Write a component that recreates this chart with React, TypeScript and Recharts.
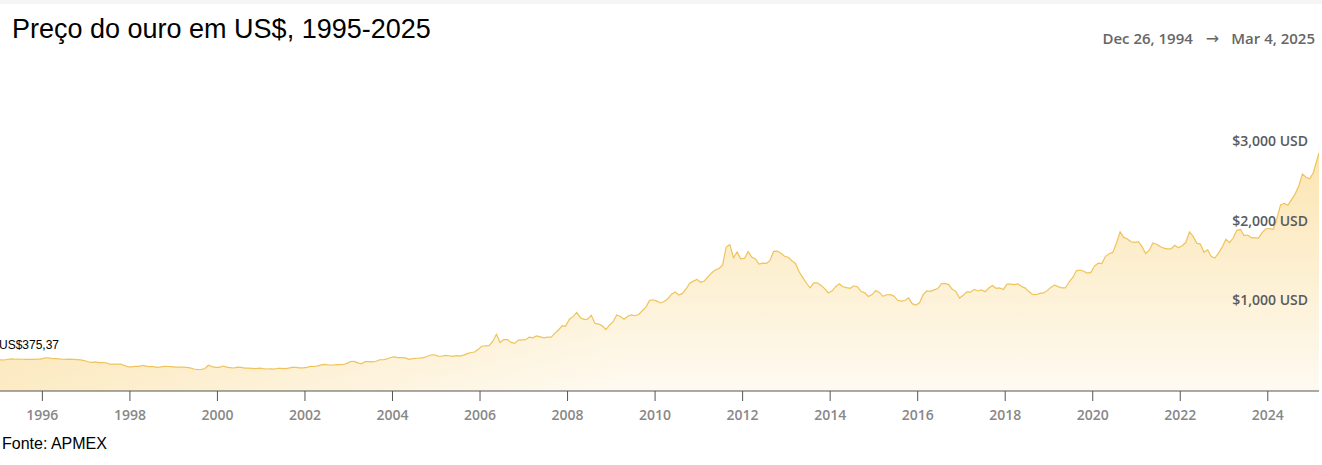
import React from 'react';
import { AreaChart, Area, XAxis, YAxis } from 'recharts';

// monthly gold price estimates (US$/oz), Jan..Dec
const prices1995to1999 = [
  378, 376, 385, 390, 385, 387, 385, 383, 384, 383, 386, 387,
  399, 404, 396, 393, 391, 385, 384, 387, 383, 380, 377, 369,
  354, 346, 352, 343, 344, 341, 323, 324, 323, 324, 306, 289,
  289, 297, 296, 309, 299, 292, 293, 284, 289, 296, 294, 291,
  287, 287, 286, 282, 277, 262, 256, 257, 265, 310, 293, 284,
];
const prices2000to2004 = [
  284, 300, 286, 280, 275, 286, 282, 274, 273, 270, 266, 272,
  266, 262, 263, 260, 272, 270, 268, 273, 283, 283, 276, 276,
  282, 296, 294, 302, 314, 321, 313, 310, 319, 317, 319, 333,
  357, 359, 340, 328, 355, 356, 351, 360, 379, 379, 389, 407,
  414, 405, 406, 403, 383, 392, 398, 400, 405, 420, 439, 442,
];
const prices2005to2009 = [
  424, 423, 434, 429, 422, 430, 424, 437, 456, 470, 476, 510,
  549, 555, 557, 610, 700, 596, 633, 632, 598, 585, 627, 629,
  631, 664, 655, 679, 667, 655, 665, 665, 712, 754, 806, 803,
  889, 922, 975, 909, 888, 889, 939, 839, 829, 806, 760, 816,
  858, 943, 924, 890, 928, 945, 934, 949, 996, 1043, 1127, 1135,
];
const prices2010to2014 = [
  1118, 1095, 1113, 1148, 1205, 1232, 1193, 1215, 1271, 1343, 1370, 1391,
  1356, 1372, 1424, 1473, 1510, 1529, 1572, 1800, 1830, 1665, 1739, 1652,
  1656, 1742, 1674, 1650, 1585, 1596, 1594, 1630, 1744, 1747, 1721, 1684,
  1671, 1627, 1593, 1487, 1414, 1343, 1286, 1347, 1349, 1316, 1275, 1221,
  1244, 1300, 1336, 1299, 1287, 1279, 1311, 1296, 1239, 1222, 1176, 1200,
];
const prices2015to2019 = [
  1251, 1227, 1178, 1198, 1199, 1181, 1128, 1117, 1125, 1159, 1086, 1068,
  1097, 1199, 1246, 1242, 1260, 1276, 1337, 1341, 1326, 1267, 1238, 1157,
  1192, 1234, 1231, 1266, 1246, 1260, 1236, 1283, 1315, 1280, 1284, 1265,
  1331, 1331, 1325, 1335, 1303, 1282, 1238, 1202, 1198, 1215, 1221, 1250,
  1291, 1320, 1300, 1286, 1284, 1359, 1413, 1500, 1510, 1495, 1471, 1480,
];
const prices2020to2025 = [
  1560, 1597, 1592, 1683, 1716, 1732, 1847, 1990, 1921, 1900, 1866, 1858,
  1867, 1808, 1718, 1760, 1850, 1834, 1807, 1785, 1776, 1777, 1821, 1790,
  1817, 1856, 1990, 1937, 1849, 1837, 1733, 1765, 1681, 1660, 1726, 1798,
  1898, 1855, 1913, 2010, 2020, 1943, 1951, 1918, 1916, 1916, 1985, 2030,
  2033, 2023, 2160, 2331, 2350, 2326, 2398, 2470, 2570, 2720, 2680, 2660,
  2740, 2900,
];

const firstT = 1994.986; // Dec 26, 1994
const firstPrice = 375.37;
const lastT = 2025.17; // Mar 4, 2025
const lastPrice = 2985;

const yearTicks = [1996, 1998, 2000, 2002, 2004, 2006, 2008, 2010, 2012, 2014, 2016, 2018, 2020, 2022, 2024];
const priceTicks = [1000, 2000, 3000];

const monthly = [
  ...prices1995to1999,
  ...prices2000to2004,
  ...prices2005to2009,
  ...prices2010to2014,
  ...prices2015to2019,
  ...prices2020to2025,
];

const data = [
  { t: firstT, price: firstPrice },
  ...monthly.map((p, i) => ({ t: 1995 + (i + 0.5) / 12, price: p })),
  { t: lastT, price: lastPrice },
];

const sans = '"Open Sans", "Noto Sans", sans-serif';

const PriceTick = ({ y, payload }: any) => (
  <text
    x={1310}
    y={y - 5.5}
    textAnchor="end"
    fill="#5a5a5a"
    fontFamily={sans}
    fontWeight={600}
    fontSize={14}
  >
    {`$${Number(payload.value).toLocaleString('en-US')} USD`}
  </text>
);

export default function App() {
  return (
    <div style={{ position: 'absolute', left: 0, top: 0, width: 1322, height: 465, background: '#fff', overflow: 'hidden' }}>
      <div style={{ position: 'absolute', left: 0, top: 0, width: 1322, height: 4, background: '#f5f5f5' }} />
      <div
        style={{
          position: 'absolute',
          left: 12,
          top: 13,
          fontFamily: '"Liberation Sans", Arial, sans-serif',
          fontSize: 27,
          lineHeight: '32px',
          color: '#000',
          whiteSpace: 'nowrap',
        }}
      >
        Preço do ouro em US$, 1995-2025
      </div>
      <div
        style={{
          position: 'absolute',
          right: 7,
          top: 28,
          fontFamily: sans,
          fontWeight: 600,
          fontSize: 15,
          lineHeight: '20px',
          color: '#666',
          whiteSpace: 'nowrap',
        }}
      >
        Dec 26, 1994
        <span style={{ margin: '0 12px 0 13px', fontFamily: '"DejaVu Sans", sans-serif', fontWeight: 400, fontSize: 16 }}>→</span>
        Mar 4, 2025
      </div>
      <div style={{ position: 'absolute', left: -2, top: 0 }}>
        <AreaChart width={1321} height={431} data={data} margin={{ top: 128, right: 0, left: 0, bottom: 0 }}>
          <defs>
            <linearGradient id="fillV" x1="0" y1="150" x2="0" y2="391" gradientUnits="userSpaceOnUse">
              <stop offset="0%" stopColor="#f8cf72" stopOpacity={0.55} />
              <stop offset="100%" stopColor="#f8cf72" stopOpacity={0.1} />
            </linearGradient>
            <linearGradient id="fillH" x1="0" y1="0" x2="620" y2="0" gradientUnits="userSpaceOnUse">
              <stop offset="0%" stopColor="#f8cf72" stopOpacity={0.35} />
              <stop offset="100%" stopColor="#f8cf72" stopOpacity={0} />
            </linearGradient>
          </defs>
          <XAxis
            dataKey="t"
            type="number"
            domain={[firstT, lastT]}
            ticks={yearTicks}
            allowDataOverflow
            height={40}
            tickSize={10}
            tickMargin={9}
            stroke="#555"
            tick={{ fill: '#888', fontFamily: sans, fontWeight: 600, fontSize: 14 }}
            tickFormatter={(v: number) => String(v)}
          />
          <Area
            type="linear"
            dataKey="price"
            stroke="none"
            fill="url(#fillH)"
            fillOpacity={1}
            baseValue="dataMin"
            dot={false}
            activeDot={false}
            isAnimationActive={false}
          />
          <Area
            type="linear"
            dataKey="price"
            stroke="#efc35a"
            strokeWidth={1.2}
            fill="url(#fillV)"
            fillOpacity={1}
            baseValue="dataMin"
            dot={false}
            activeDot={false}
            isAnimationActive={false}
          />
          <YAxis
            orientation="right"
            mirror
            width={60}
            domain={[-15, 3300]}
            ticks={priceTicks}
            axisLine={false}
            tickLine={false}
            tick={PriceTick}
          />
        </AreaChart>
      </div>
      <div
        style={{
          position: 'absolute',
          left: -1,
          top: 337,
          fontFamily: '"Liberation Sans", Arial, sans-serif',
          fontSize: 12,
          lineHeight: '16px',
          color: '#000',
          whiteSpace: 'nowrap',
        }}
      >
        US$375,37
      </div>
      <div
        style={{
          position: 'absolute',
          left: 2,
          top: 434,
          fontFamily: '"Liberation Sans", Arial, sans-serif',
          fontSize: 16,
          lineHeight: '19px',
          color: '#000',
          whiteSpace: 'nowrap',
        }}
      >
        Fonte: APMEX
      </div>
    </div>
  );
}
